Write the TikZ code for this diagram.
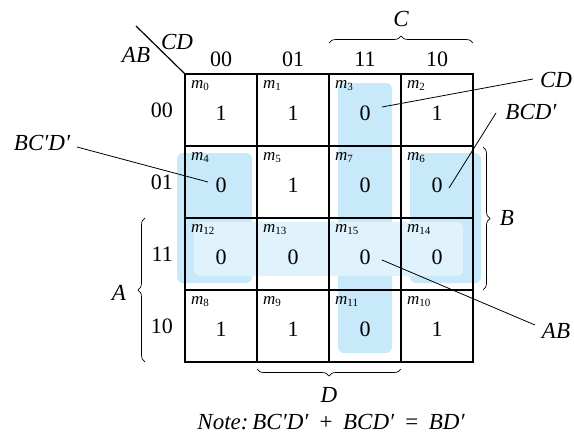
\documentclass[tikz,border=0pt]{standalone}
\usepackage{fontspec}
\setmainfont{Liberation Serif}
\usetikzlibrary{decorations.pathreplacing}
\definecolor{kblue}{RGB}{199,233,249}
\definecolor{klight}{RGB}{224,242,252}
\begin{document}
\begin{tikzpicture}[x=1pt,y=-1pt,
  cellbox/.style={draw=black,line width=1.8pt,minimum width=72pt,minimum height=72pt,inner sep=0pt,outer sep=0pt},
  val/.style={font=\fontsize{22}{22}\selectfont,inner sep=0pt},
  mlab/.style={font=\fontsize{17}{17}\selectfont\itshape,anchor=north west,inner sep=0pt},
  hdr/.style={font=\fontsize{22}{22}\selectfont,inner sep=0pt},
  var/.style={font=\fontsize{23}{23}\selectfont\itshape,inner sep=0pt},
  callout/.style={line width=0.8pt},
  bracestyle/.style={decorate,decoration={brace,amplitude=7pt},line width=0.7pt}]
\useasboundingbox (0,0) rectangle (574,434);
% groups
\fill[kblue,rounded corners=6pt] (338,83) rectangle (392,353);
\fill[kblue,rounded corners=6pt] (177,153) rectangle (252,283);
\fill[kblue,rounded corners=6pt] (410,153) rectangle (481,283);
\fill[klight,rounded corners=6pt] (194,222) rectangle (463,276);
% cells
\foreach \r/\ry in {0/110,1/182,2/254,3/326}{
  \foreach \c/\cx in {0/221,1/293,2/365,3/437}{
    \node[cellbox] (c\r\c) at (\cx,\ry) {};
  }
}
% minterm labels and values
\foreach \r/\c/\m/\v in {0/0/0/1,0/1/1/1,0/2/3/0,0/3/2/1,
                         1/0/4/0,1/1/5/1,1/2/7/0,1/3/6/0,
                         2/0/12/0,2/1/13/0,2/2/15/0,2/3/14/0,
                         3/0/8/1,3/1/9/1,3/2/11/0,3/3/10/1}{
  \node[mlab] (m\m) at ([xshift=6pt,yshift=-6pt]c\r\c.north west) {m\textsubscript{\upshape\fontsize{11}{11}\selectfont\m}};
  \node[val] (v\m) at ([yshift=-3pt]c\r\c.center) {\v};
}
% headers
\node[hdr] (h00) at (221,59) {00};
\node[hdr] (h01) at (293,59) {01};
\node[hdr] (h11) at (365,59) {11};
\node[hdr] (h10) at (437,59) {10};
\node[hdr,anchor=east] (r00) at (173,110) {00};
\node[hdr,anchor=east] (r01) at (173,182) {01};
\node[hdr,anchor=east] (r11) at (173,254) {11};
\node[hdr,anchor=east] (r10) at (173,326) {10};
\coordinate (dg1) at (136,26);
\draw[line width=1.2pt] (dg1) -- (c00.north west);
\node[var] (lcd) at (177,42) {CD};
\node[var] (lab) at (136,55) {AB};
% braces
\draw[bracestyle] (c02.north west |- 0,43) -- (c03.north east |- 0,43);
\node[var] (C) at (401,19) {C};
\draw[bracestyle] (c32.south east |- 0,369) -- (c31.south west |- 0,369);
\node[var] (D) at (329,395) {D};
\draw[bracestyle] (145,362) -- (145,218);
\node[var] (A) at (119,293) {A};
\draw[bracestyle] (483,147) -- (483,290);
\node[var] (B) at (507,218) {B};
% callouts
\node[var] (tCD) at (556,80) {CD};
\node[var] (tBCD) at (531,112) {BCD′};
\node[var] (tBCpD) at (42,143) {BC′D′};
\node[var] (tAB) at (556,331) {AB};
\coordinate (p3) at (382,107);
\coordinate (p6) at (449,188);
\coordinate (p4) at (208,182);
\coordinate (p15) at (382,260);
\draw[callout] (p3) -- (533,79);
\draw[callout] (p6) -- (496,113);
\draw[callout] (p4) -- (77,147);
\draw[callout] (p15) -- (535,325);
% note
\node[var,font=\fontsize{23}{23}\selectfont\itshape] (note) at (331,422) {Note:\,BC′D′ \,+\, BCD′ \,=\, BD′};
\end{tikzpicture}
\end{document}
